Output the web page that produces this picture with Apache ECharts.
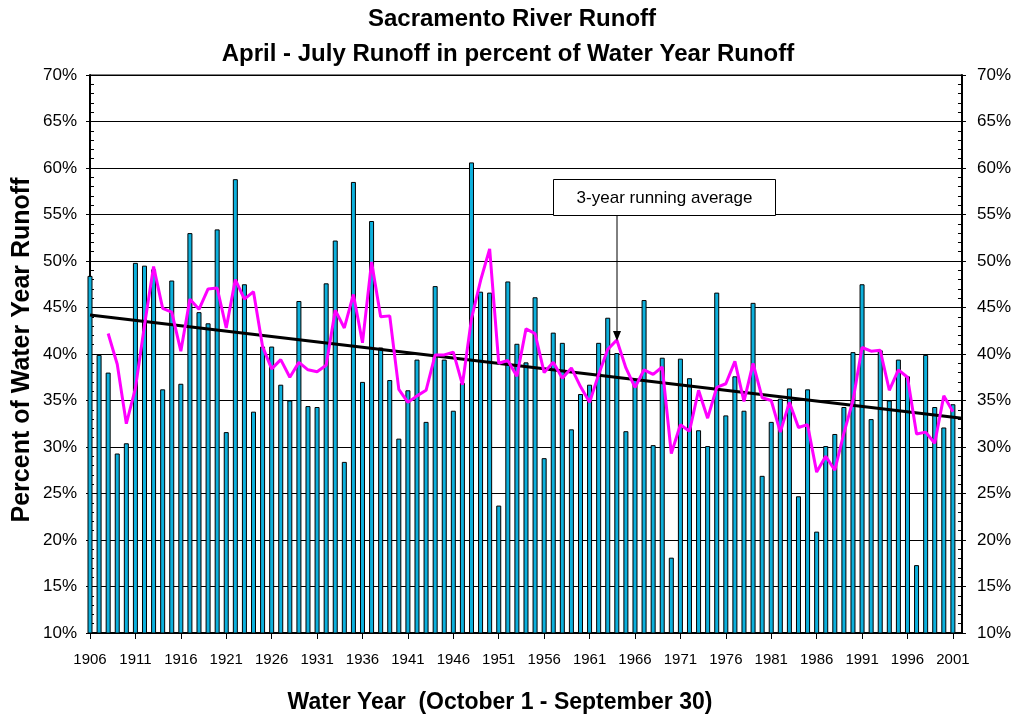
<!DOCTYPE html>
<html><head><meta charset="utf-8">
<script src="https://cdn.jsdelivr.net/npm/echarts@6/dist/echarts.min.js"></script>
<style>html,body{margin:0;padding:0;background:#fff}#c{width:1014px;height:718px}</style>
</head><body><div id="c"></div>
<script>
const years = ['1906','1907','1908','1909','1910','1911','1912','1913','1914','1915','1916','1917','1918','1919','1920','1921','1922','1923','1924','1925','1926','1927','1928','1929','1930','1931','1932','1933','1934','1935','1936','1937','1938','1939','1940','1941','1942','1943','1944','1945','1946','1947','1948','1949','1950','1951','1952','1953','1954','1955','1956','1957','1958','1959','1960','1961','1962','1963','1964','1965','1966','1967','1968','1969','1970','1971','1972','1973','1974','1975','1976','1977','1978','1979','1980','1981','1982','1983','1984','1985','1986','1987','1988','1989','1990','1991','1992','1993','1994','1995','1996','1997','1998','1999','2000','2001','2002'];

// April-July runoff in % of water year runoff
const runoff = [48.4,39.9,38.0,29.3,30.4,49.8,49.5,49.1,36.2,47.9,
  36.8,53.0,44.5,43.3,53.4,31.6,58.8,47.5,33.8,40.8,
  40.8,36.7,35.0,45.7,34.4,34.3,47.6,52.2,28.4,58.5,
  37.0,54.3,40.7,37.2,30.9,36.1,39.4,32.7,47.3,39.4,
  33.9,36.9,60.6,46.7,46.6,23.7,47.8,41.1,39.1,46.1,
  28.8,42.3,41.2,31.9,35.7,36.7,41.2,43.9,40.1,31.7,
  37.3,45.8,30.2,39.6,18.1,39.5,37.4,31.8,30.1,46.6,
  33.4,37.6,33.9,45.5,26.9,32.7,35.2,36.3,24.7,36.2,
  20.9,30.1,31.4,34.3,40.2,47.5,33.0,40.4,35.0,39.4,
  37.6,17.3,39.9,34.3,32.1,34.6,null];

// 3-year running average
const runningAvg = [null,null,42.2,38.9,32.5,36.3,43.1,49.4,44.9,44.5,
  40.3,45.9,44.8,47.0,47.1,42.8,48.0,45.9,46.7,40.8,
  38.4,39.4,37.5,39.1,38.3,38.1,38.8,44.7,42.8,46.4,
  41.2,49.9,44.0,44.1,36.2,34.8,35.5,36.1,39.9,39.9,
  40.2,36.7,43.8,47.9,51.3,39.0,39.3,37.6,42.7,42.2,
  38.0,39.1,37.4,38.5,36.5,34.8,37.8,40.5,41.5,38.5,
  36.4,38.3,37.8,38.6,29.3,32.4,31.7,36.1,33.1,36.4,
  36.8,39.2,34.9,39.0,35.3,35.0,31.6,34.8,32.1,32.4,
  27.3,29.0,27.5,31.5,35.0,40.7,40.3,40.4,36.1,38.3,
  37.5,31.4,31.6,30.4,35.5,33.8,null];

// linear trend end points
const trendYears = ['1906','2002'];
const trendValues = [44.2, 33.1];

const FONT = 'Liberation Sans, Arial, sans-serif';
const chart = echarts.init(document.getElementById('c'));
const every5 = (idx) => idx % 5 === 0;

function yAx(pos, showLabel, tickInside, tickLen, minor) {
  return {
    type: 'value', position: pos, min: 10, max: 70, interval: 5,
    axisLine: {show: showLabel, lineStyle: {color: '#000', width: 2}},
    axisTick: {show: true, inside: tickInside, length: tickLen, lineStyle: {color: '#000', width: 1}},
    minorTick: {show: minor, splitNumber: 5, length: 4, lineStyle: {color: '#000', width: 1}},
    axisLabel: {show: showLabel, formatter: '{value}%', color: '#000', fontFamily: FONT, fontSize: 17, margin: pos === 'left' ? 13 : 15},
    splitLine: {show: pos === 'left' && showLabel, lineStyle: {color: '#000', width: 1}}
  };
}

chart.setOption({
  animation: false,
  backgroundColor: '#fff',
  grid: {left: 90, right: 52, top: 75, bottom: 85, show: true, borderColor: '#000', borderWidth: 1},
  xAxis: {
    type: 'category', data: years, boundaryGap: false,
    axisLine: {lineStyle: {color: '#000', width: 2}},
    axisTick: {interval: every5, length: 6, lineStyle: {color: '#000', width: 1}},
    axisLabel: {interval: every5, color: '#000', fontFamily: FONT, fontSize: 15, margin: 19}
  },
  yAxis: [
    yAx('left', true, true, 4, true),
    yAx('right', true, true, 4, true),
    yAx('left', false, false, 4, false),
    yAx('right', false, false, 4, false)
  ],
  series: [
    {type: 'bar', data: runoff, barWidth: 5, yAxisIndex: 0, clip: true,
     itemStyle: {color: '#0DB0DC', borderColor: '#000', borderWidth: 1}},
    {type: 'line', data: trendYears.map((y, i) => [y, trendValues[i]]), yAxisIndex: 0,
     symbol: 'none', lineStyle: {color: '#000', width: 3}},
    {type: 'line', data: runningAvg, yAxisIndex: 0, symbol: 'none',
     lineStyle: {color: '#FF00FF', width: 3}}
  ],
  graphic: [
    {type: 'text', x: 512, y: 19, style: {text: 'Sacramento River Runoff', font: 'bold 24px ' + FONT, fill: '#000', align: 'center', verticalAlign: 'middle'}},
    {type: 'text', x: 508, y: 54, style: {text: 'April - July Runoff in percent of Water Year Runoff', font: 'bold 24px ' + FONT, fill: '#000', align: 'center', verticalAlign: 'middle'}},
    {type: 'text', x: 500, y: 703, style: {text: 'Water Year  (October 1 - September 30)', font: 'bold 23px ' + FONT, fill: '#000', align: 'center', verticalAlign: 'middle'}},
    {type: 'text', x: 22, y: 350, rotation: Math.PI / 2, style: {text: 'Percent of Water Year Runoff', font: 'bold 25px ' + FONT, fill: '#000', align: 'center', verticalAlign: 'middle'}},
    {type: 'rect', shape: {x: 553.5, y: 179.5, width: 222, height: 36}, style: {fill: '#fff', stroke: '#000', lineWidth: 1}, z: 100},
    {type: 'text', x: 664.5, y: 198, z: 101, style: {text: '3-year running average', font: '17px ' + FONT, fill: '#000', align: 'center', verticalAlign: 'middle'}},
    {type: 'line', shape: {x1: 617, y1: 216, x2: 617, y2: 333}, style: {stroke: '#000', lineWidth: 1}, z: 100},
    {type: 'polygon', shape: {points: [[613, 331], [621, 331], [617, 341]]}, style: {fill: '#000'}, z: 100}
  ]
});
</script></body></html>
